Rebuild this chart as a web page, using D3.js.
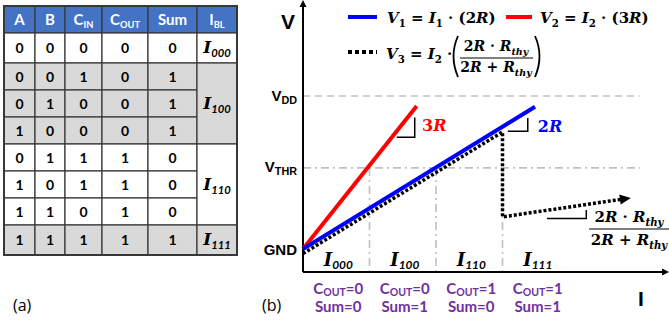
<!DOCTYPE html>
<html>
<head>
<meta charset="utf-8">
<script src="https://cdn.jsdelivr.net/npm/d3@7"></script>
<style>
  body { margin: 0; background: #fff; }
  svg { display: block; }
</style>
</head>
<body>
<svg id="fig" width="669" height="325"></svg>
<script>
// ---- (a) truth table ----
const tableCols = ['A', 'B', 'C_IN', 'C_OUT', 'Sum', 'I_BL'];
const tableRows = [
    [0, 0, 0, 0, 0],
    [0, 0, 1, 0, 1],
    [0, 1, 0, 0, 1],
    [1, 0, 0, 0, 1],
    [0, 1, 1, 1, 0],
    [1, 0, 1, 1, 0],
    [1, 1, 0, 1, 0],
    [1, 1, 1, 1, 1]
];
const currentGroups = ['000', '100', '110', '111'];
const groupFirstRow = [0, 1, 4, 7];
const groupLastRow = [0, 3, 6, 7];

// ---- (b) V-I chart ----
const levelNames = ['DD', 'THR'];
const levelValues = [1, 0.53];
const intervalBounds = [1, 2, 3];
const intervalLabels = ['000', '100', '110', '111'];
const coutValues = [0, 0, 1, 1];
const sumValues = [0, 1, 0, 1];
const v1Points = [[0, 0], [3.49, 0.93]];
const v2Points = [[0, 0], [1.71, 0.935]];
const v3Points = [[0, -0.03], [3, 0.765], [3, 0.21], [4.87, 0.33]];
// slope marks: [i0, i1, v0, v1]
const slopeMarks = [[1.41, 1.68, 0.73, 0.86], [3.08, 3.38, 0.77, 0.856], [3.67, 4.26, 0.2, 0.255]];

const svg = d3.select('#fig');
const lineCol = '#383838';
const serif = 'DejaVu Serif';
const sans = 'Lato';

// helper: text made of parts, [text, italic?, sub?]
function richText(g, parts, x, y, size, family, opts) {
    opts = opts || {};
    const t = g.append('text')
        .attr('x', x).attr('y', y)
        .attr('font-family', family)
        .attr('font-weight', 'bold')
        .attr('font-size', size)
        .attr('fill', opts.fill || '#000')
        .attr('text-anchor', opts.anchor || 'start');
    let inSub = false;
    const shift = opts.shift != null ? opts.shift : size * 0.28;
    parts.forEach(p => {
        const s = t.append('tspan').text(p[0]);
        if (p[1]) s.attr('font-style', 'italic');
        if (p[2]) {
            s.attr('font-size', size * (opts.subScale || 0.68));
            if (!inSub) s.attr('dy', shift);
            inSub = true;
        } else if (inSub) {
            s.attr('dy', -shift);
            inSub = false;
        }
    });
    return t;
}

// ================= table =================
const colX = [4, 35, 65, 102, 148, 197, 237];
const rowY = [6, 33, 63, 90, 117, 144, 171, 198, 225, 255];
const tbl = svg.append('g');
const shadedRow = r => {
    const gi = groupFirstRow.findIndex((f, k) => r >= f && r <= groupLastRow[k]);
    return gi % 2 === 1;
};

tbl.selectAll('rect.hd').data(tableCols).join('rect')
    .attr('x', (d, i) => colX[i]).attr('y', rowY[0])
    .attr('width', (d, i) => colX[i + 1] - colX[i]).attr('height', rowY[1] - rowY[0])
    .attr('fill', '#4472c4').attr('stroke', lineCol).attr('stroke-width', 1.2);

tableCols.forEach((c, i) => {
    const [main, sub] = c.split('_');
    const parts = [[main, false, false]];
    if (sub) parts.push([sub, false, true]);
    richText(tbl, parts, (colX[i] + colX[i + 1]) / 2, 25, 15, sans, {fill: '#fff', anchor: 'middle', subScale: 0.62, shift: 3});
});

const cells = [];
tableRows.forEach((row, r) => row.forEach((v, c) => cells.push({r, c, v})));

tbl.selectAll('rect.cell').data(cells).join('rect')
    .attr('x', d => colX[d.c]).attr('y', d => rowY[d.r + 1])
    .attr('width', d => colX[d.c + 1] - colX[d.c]).attr('height', d => rowY[d.r + 2] - rowY[d.r + 1])
    .attr('fill', d => shadedRow(d.r) ? '#d9d9d9' : '#fff')
    .attr('stroke', lineCol).attr('stroke-width', 1.2);

tbl.selectAll('text.cell').data(cells).join('text')
    .attr('x', d => (colX[d.c] + colX[d.c + 1]) / 2)
    .attr('y', d => (rowY[d.r + 1] + rowY[d.r + 2]) / 2 + 5)
    .attr('text-anchor', 'middle')
    .attr('font-family', sans).attr('font-weight', 'bold').attr('font-size', 14)
    .text(d => d.v);

currentGroups.forEach((lab, k) => {
    const y0 = rowY[groupFirstRow[k] + 1], y1 = rowY[groupLastRow[k] + 2];
    tbl.append('rect')
        .attr('x', colX[5]).attr('y', y0).attr('width', colX[6] - colX[5]).attr('height', y1 - y0)
        .attr('fill', k % 2 ? '#d9d9d9' : '#fff')
        .attr('stroke', lineCol).attr('stroke-width', 1.2);
    const t = richText(tbl, [['I', true, false], [lab, true, true]], (colX[5] + colX[6]) / 2, (y0 + y1) / 2 + 5, 17, serif, {anchor: 'middle', subScale: 0.66, shift: 4});
    t.select('tspan:nth-child(2)').attr('font-family', sans);
});

tbl.append('rect')
    .attr('x', colX[0]).attr('y', rowY[0])
    .attr('width', colX[6] - colX[0]).attr('height', rowY[9] - rowY[0])
    .attr('fill', 'none').attr('stroke', lineCol).attr('stroke-width', 2);

svg.append('text').attr('x', 13).attr('y', 311)
    .attr('font-family', 'Open Sans').attr('font-size', 16).text('(a)');
svg.append('text').attr('x', 262).attr('y', 311)
    .attr('font-family', 'Open Sans').attr('font-size', 16).text('(b)');

// ================= chart =================
const x = d3.scaleLinear().domain([0, 1]).range([303, 369.5]);
const y = d3.scaleLinear().domain([0, 1]).range([249, 96]);
const ch = svg.append('g');
const line = d3.line().x(d => x(d[0])).y(d => y(d[1]));

function arrowHead(g, tip, angle, len, half, fill) {
    const pts = [[0, 0], [-len, -half], [-len, half]].map(p => {
        const c = Math.cos(angle), s = Math.sin(angle);
        return [tip[0] + p[0] * c - p[1] * s, tip[1] + p[0] * s + p[1] * c];
    });
    g.append('path').attr('d', 'M' + pts.join('L') + 'Z').attr('fill', fill);
}

// guides
const guideCol = '#c0c0c0';
levelValues.forEach((v, i) => {
    ch.append('line')
        .attr('x1', x(0)).attr('x2', x(5.07)).attr('y1', y(v)).attr('y2', y(v))
        .attr('stroke', guideCol).attr('stroke-width', 1.6)
        .attr('stroke-dasharray', i === 0 ? '7 5' : '8 4 2 4');
});
intervalBounds.forEach(b => {
    ch.append('line')
        .attr('x1', x(b)).attr('x2', x(b)).attr('y1', y(levelValues[1])).attr('y2', y(-0.15))
        .attr('stroke', guideCol).attr('stroke-width', 1.6)
        .attr('stroke-dasharray', '8 4 2 4');
});

// axes
ch.append('line').attr('x1', x(0)).attr('x2', x(0)).attr('y1', y(-0.15)).attr('y2', 6)
    .attr('stroke', '#000').attr('stroke-width', 2);
arrowHead(ch, [x(0), 0], -Math.PI / 2, 7, 3.5, '#000');
ch.append('line').attr('x1', x(0)).attr('x2', 663).attr('y1', y(-0.15)).attr('y2', y(-0.15))
    .attr('stroke', '#000').attr('stroke-width', 2);
arrowHead(ch, [669, y(-0.15)], 0, 7, 3.5, '#000');

// level labels
richText(ch, [['V', false, false], ['DD', false, true]], 297, 101, 15, 'Liberation Sans', {anchor: 'end', subScale: 0.72, shift: 3});
richText(ch, [['V', false, false], ['THR', false, true]], 297, 172, 15, 'Liberation Sans', {anchor: 'end', subScale: 0.72, shift: 3});
ch.append('text').attr('x', 297).attr('y', 255).attr('text-anchor', 'end')
    .attr('font-family', 'Liberation Sans').attr('font-weight', 'bold').attr('font-size', 15).text('GND');
ch.append('text').attr('x', 288).attr('y', 29).attr('text-anchor', 'middle')
    .attr('font-family', 'Liberation Sans').attr('font-weight', 'bold').attr('font-size', 21).text('V');
ch.append('text').attr('x', 641).attr('y', 306).attr('text-anchor', 'middle')
    .attr('font-family', 'Liberation Sans').attr('font-weight', 'bold').attr('font-size', 21).text('I');

// dotted V3 with arrow (drawn under the blue line)
const last = v3Points[v3Points.length - 1], prev = v3Points[v3Points.length - 2];
const ang = Math.atan2(y(last[1]) - y(prev[1]), x(last[0]) - x(prev[0]));
const tip = [x(last[0]) + 4, y(last[1]) + 4 * Math.tan(ang)];
const v3Pix = v3Points.map(d => [x(d[0]), y(d[1])]);
v3Pix[v3Pix.length - 1] = [tip[0] - 9 * Math.cos(ang), tip[1] - 9 * Math.sin(ang)];
ch.append('path').attr('d', d3.line()(v3Pix)).attr('fill', 'none')
    .attr('stroke', '#000').attr('stroke-width', 3.5).attr('stroke-dasharray', '3 2');
arrowHead(ch, tip, ang, 11, 5, '#000');

// data lines
ch.append('path').attr('d', line(v2Points)).attr('fill', 'none')
    .attr('stroke', '#ff0000').attr('stroke-width', 4);
ch.append('path').attr('d', line(v1Points)).attr('fill', 'none')
    .attr('stroke', '#0000ff').attr('stroke-width', 4);

// slope marks
slopeMarks.forEach(m => {
    ch.append('path')
        .attr('d', `M${x(m[0])},${y(m[2])}H${x(m[1])}V${y(m[3])}`)
        .attr('fill', 'none').attr('stroke', '#000').attr('stroke-width', 1.5);
});
richText(ch, [['3', false, false], ['R', true, false]], x(1.79), y(0.77), 16, serif, {fill: '#ff0000'});
richText(ch, [['2', false, false], ['R', true, false]], x(3.53), y(0.765), 16, serif, {fill: '#0000ff'});

// fraction near the arrow
const frac = ch.append('g');
richText(frac, [['2', false, false], ['R', true, false], [' · ', false, false], ['R', true, false], ['thy', true, true]], 629, 222, 15, serif, {anchor: 'middle'});
frac.append('line').attr('x1', 589).attr('x2', 669).attr('y1', 229).attr('y2', 229).attr('stroke', '#000').attr('stroke-width', 1.2);
richText(frac, [['2', false, false], ['R', true, false], [' + ', false, false], ['R', true, false], ['thy', true, true]], 629, 245, 15, serif, {anchor: 'middle'});

// interval labels + purple state labels
intervalLabels.forEach((lab, i) => {
    const cx = x(i + 0.5) + 2;
    const t = richText(ch, [['I', true, false], [lab, true, true]], cx, 266, 18, serif, {anchor: 'middle', subScale: 0.66, shift: 3});
    t.select('tspan:nth-child(2)').attr('font-family', sans);
    richText(ch, [['C', false, false], ['OUT', false, true], ['=' + coutValues[i], false, false]], cx, 294, 15, sans, {anchor: 'middle', fill: '#7030a0', subScale: 0.7, shift: 2});
    ch.append('text').attr('x', cx).attr('y', 312).attr('text-anchor', 'middle')
        .attr('font-family', sans).attr('font-weight', 'bold').attr('font-size', 15)
        .attr('fill', '#7030a0').text('Sum=' + sumValues[i]);
});

// legend
const lg = svg.append('g');
lg.append('line').attr('x1', 348).attr('x2', 377).attr('y1', 17).attr('y2', 17).attr('stroke', '#0000ff').attr('stroke-width', 4);
lg.append('line').attr('x1', 506).attr('x2', 532).attr('y1', 17).attr('y2', 17).attr('stroke', '#ff0000').attr('stroke-width', 4);
lg.append('line').attr('x1', 348).attr('x2', 377).attr('y1', 52).attr('y2', 52).attr('stroke', '#000').attr('stroke-width', 4).attr('stroke-dasharray', '4 3');
richText(lg, [['V', true, false], ['1', false, true], [' = ', false, false], ['I', true, false], ['1', false, true], [' · (2', false, false], ['R', true, false], [')', false, false]], 387, 23, 15, serif);
richText(lg, [['V', true, false], ['2', false, true], [' = ', false, false], ['I', true, false], ['2', false, true], [' · (3', false, false], ['R', true, false], [')', false, false]], 540, 23, 15, serif);
richText(lg, [['V', true, false], ['3', false, true], [' = ', false, false], ['I', true, false], ['2', false, true], [' ·', false, false]], 386, 59, 15, serif);
richText(lg, [['2', false, false], ['R', true, false], [' · ', false, false], ['R', true, false], ['thy', true, true]], 496, 51, 14, serif, {anchor: 'middle'});
lg.append('line').attr('x1', 460).attr('x2', 533).attr('y1', 58).attr('y2', 58).attr('stroke', '#000').attr('stroke-width', 1.2);
richText(lg, [['2', false, false], ['R', true, false], [' + ', false, false], ['R', true, false], ['thy', true, true]], 496, 72, 14, serif, {anchor: 'middle'});
lg.append('path').attr('d', 'M458,36 Q449,56 458,77').attr('fill', 'none').attr('stroke', '#000').attr('stroke-width', 1.8);
lg.append('path').attr('d', 'M535,36 Q544,56 535,77').attr('fill', 'none').attr('stroke', '#000').attr('stroke-width', 1.8);
</script>
</body>
</html>
